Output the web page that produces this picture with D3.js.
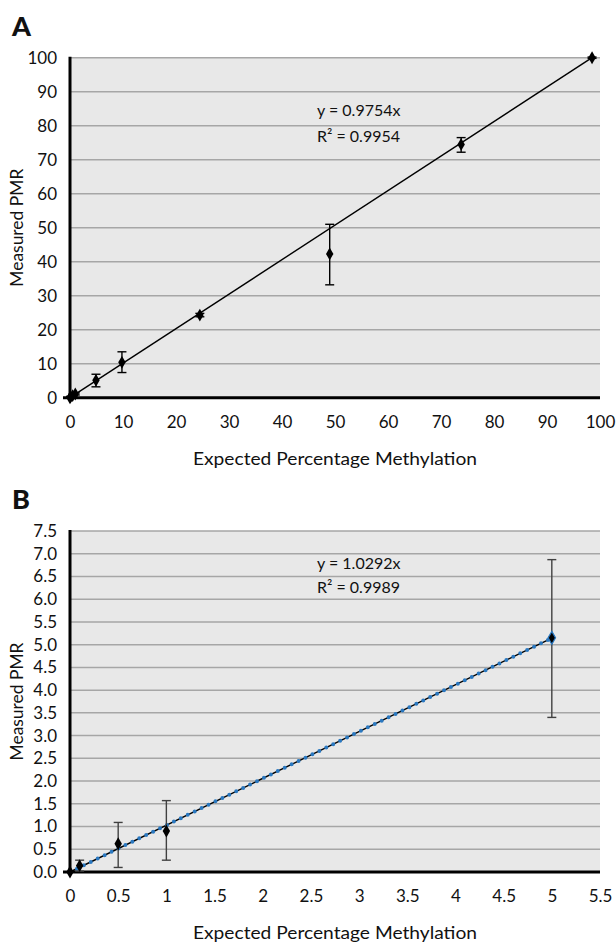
<!DOCTYPE html>
<html lang="en">
<head>
<meta charset="UTF-8">
<script src="https://cdn.jsdelivr.net/npm/d3@7/dist/d3.min.js"></script>
<title>PMR vs expected methylation</title>
<style>
  body { margin: 0; background: #fff; }
  text { font-family: Lato, "Open Sans", sans-serif; fill: #111; }
</style>
</head>
<body>
<script>
// panel A
var xA = [0, 0.1, 0.5, 1, 4.9, 9.8, 24.5, 49, 73.8, 98.5];
var yA = [0, 0.3, 0.6, 1.1, 5.1, 10.4, 24.3, 42.3, 74.5, 100];
var loA = [0, 0.2, 0.4, 0.8, 3.2, 7.4, 23.8, 33.2, 72.2, 99.8];
var hiA = [0, 0.4, 0.8, 1.4, 6.9, 13.5, 24.8, 51, 76.5, 100.2];
var trendA = [[0, 0], [98.5, 100]];
var xTicksA = [0, 10, 20, 30, 40, 50, 60, 70, 80, 90, 100];
var yTicksA = [0, 10, 20, 30, 40, 50, 60, 70, 80, 90, 100];

// panel B
var xB = [0, 0.1, 0.5, 1, 5];
var yB = [0, 0.14, 0.62, 0.9, 5.15];
var loB = [0, 0.02, 0.1, 0.26, 3.4];
var hiB = [0, 0.26, 1.09, 1.57, 6.87];
var trendB = [[0, 0], [5, 5.146]];
var xTicksB = [0, 0.5, 1, 1.5, 2, 2.5, 3, 3.5, 4, 4.5, 5, 5.5];
var yTicksB = [0, 0.5, 1, 1.5, 2, 2.5, 3, 3.5, 4, 4.5, 5, 5.5, 6, 6.5, 7, 7.5];

var svg = d3.select("body").append("svg").attr("width", 616).attr("height", 943);

function panel(o) {
    var g = svg.append("g");
    var x = d3.scaleLinear().domain(o.xd).range([70, 600]);
    var y = d3.scaleLinear().domain(o.yd).range([o.bottom, o.top]);

    g.append("rect").attr("x", 70).attr("y", o.top).attr("width", 530).attr("height", o.bottom - o.top)
        .attr("fill", "#e8e8e8");

    // gridlines
    g.append("g").selectAll("line").data(o.yt.slice(1)).enter().append("line")
        .attr("x1", 70).attr("x2", 600)
        .attr("y1", function (d) { return y(d); }).attr("y2", function (d) { return y(d); })
        .attr("stroke", "#a6a6a6").attr("stroke-width", 1.5);

    // tick labels
    var ya = g.append("g").attr("transform", "translate(70,0)")
        .call(d3.axisLeft(y).tickValues(o.yt).tickSize(0).tickPadding(13).tickFormat(o.yf));
    ya.select(".domain").remove();
    ya.selectAll("text").style("font-size", "17px").style("font-family", "Lato, sans-serif").attr("fill", "#111");

    var xa = g.append("g").attr("transform", "translate(0," + o.bottom + ")")
        .call(d3.axisBottom(x).tickValues(o.xt).tickSize(0).tickPadding(18).tickFormat(o.xf));
    xa.select(".domain").remove();
    xa.selectAll("text").style("font-size", "17px").style("font-family", "Lato, sans-serif").attr("fill", "#111");

    // axis lines
    g.append("line").attr("x1", 70).attr("x2", 70).attr("y1", o.top - 1).attr("y2", o.bottom + 1)
        .attr("stroke", "#000").attr("stroke-width", 3);
    g.append("line").attr("x1", 63).attr("x2", 600).attr("y1", o.bottom).attr("y2", o.bottom)
        .attr("stroke", "#000").attr("stroke-width", 3);

    // trendline
    var line = d3.line().x(function (d) { return x(d[0]); }).y(function (d) { return y(d[1]); });
    g.append("path").datum(o.trend).attr("d", line).attr("fill", "none")
        .attr("stroke", "#000").attr("stroke-width", 1.4);
    if (o.dotted) {
        g.append("path").datum(o.trend).attr("d", line).attr("fill", "none")
            .attr("stroke", "#2a78c0").attr("stroke-width", 4)
            .attr("stroke-linecap", "round").attr("stroke-dasharray", "0 7.7");
    }

    // error bars
    var idx = d3.range(o.xs.length);
    var eb = g.append("g").attr("stroke", o.ebColor).attr("stroke-width", 1.4);
    eb.selectAll(".v").data(idx).enter().append("line")
        .attr("x1", function (i) { return x(o.xs[i]); }).attr("x2", function (i) { return x(o.xs[i]); })
        .attr("y1", function (i) { return y(o.lo[i]); }).attr("y2", function (i) { return y(o.hi[i]); });
    [o.lo, o.hi].forEach(function (arr) {
        eb.selectAll(null).data(idx.filter(function (i) { return o.hi[i] - o.lo[i] > 0; })).enter().append("line")
            .attr("x1", function (i) { return x(o.xs[i]) - 4.5; }).attr("x2", function (i) { return x(o.xs[i]) + 4.5; })
            .attr("y1", function (i) { return y(arr[i]); }).attr("y2", function (i) { return y(arr[i]); });
    });

    // markers
    g.append("g").selectAll("path").data(idx).enter().append("path")
        .attr("d", d3.symbol().type(d3.symbolDiamond).size(48))
        .attr("transform", function (i) { return "translate(" + x(o.xs[i]) + "," + y(o.ys[i]) + ")"; })
        .attr("fill", "#000")
        .attr("stroke", function (i) { return o.dotted && i === o.xs.length - 1 ? "#2a78c0" : "none"; })
        .attr("stroke-width", 1.2);

    // equation
    g.append("text").attr("x", 317).attr("y", o.eqY).style("font-size", "16px").text(o.eq);
    g.append("text").attr("x", 317).attr("y", o.eqY + o.eqGap).style("font-size", "16px").text(o.r2);

    // titles
    g.append("text").attr("x", 335).attr("y", o.bottom + 67).attr("text-anchor", "middle")
        .attr("textLength", 284).attr("lengthAdjust", "spacingAndGlyphs")
        .style("font-size", "17px").text("Expected Percentage Methylation");
    g.append("text").attr("transform", "translate(23," + ((o.top + o.bottom) / 2) + ") rotate(-90)")
        .attr("text-anchor", "middle").attr("textLength", 118).attr("lengthAdjust", "spacingAndGlyphs")
        .style("font-size", "17px").text("Measured PMR");
    g.append("text").attr("x", 12).attr("y", o.top - 22).style("font-size", "27px")
        .style("font-weight", "900").text(o.letter);
}

panel({
    letter: "A", top: 57.7, bottom: 397.7, xd: [0, 100], yd: [0, 100],
    xt: xTicksA, yt: yTicksA, xf: d3.format("d"), yf: d3.format("d"),
    xs: xA, ys: yA, lo: loA, hi: hiA, trend: trendA, ebColor: "#000",
    eq: "y = 0.9754x", r2: "R\u00b2 = 0.9954", eqY: 116, eqGap: 26, dotted: false
});

panel({
    letter: "B", top: 531, bottom: 872, xd: [0, 5.5], yd: [0, 7.5],
    xt: xTicksB, yt: yTicksB, xf: function (d) { return String(d); }, yf: d3.format(".1f"),
    xs: xB, ys: yB, lo: loB, hi: hiB, trend: trendB, ebColor: "#404040",
    eq: "y = 1.0292x", r2: "R\u00b2 = 0.9989", eqY: 569, eqGap: 23.5, dotted: true
});
</script>
</body>
</html>
